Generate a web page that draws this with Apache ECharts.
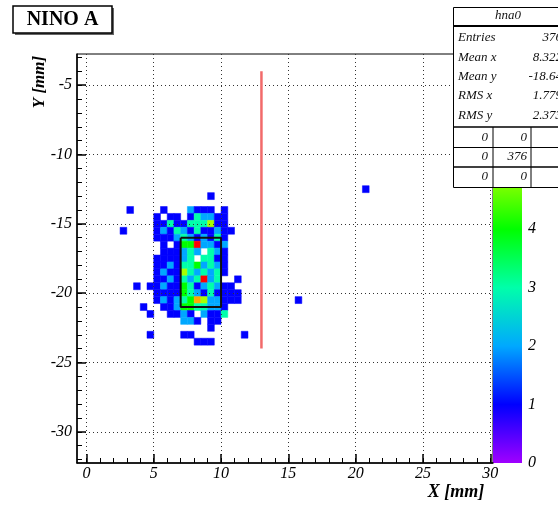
<!DOCTYPE html>
<html>
<head>
<meta charset="utf-8">
<script src="https://cdn.jsdelivr.net/npm/echarts@6/dist/echarts.min.js"></script>
<style>
html, body { margin: 0; padding: 0; background: #fff; }
#chart { width: 558px; height: 506px; }
</style>
</head>
<body>
<div id="chart"></div>
<script>
// histogram hna0 : bin centres in mm, bins are 0.5 mm wide
const binSize = 0.5;
const xCenters = [2.75, 3.25, 3.75, 4.25, 4.75, 5.25, 5.75, 6.25, 6.75, 7.25, 7.75, 8.25, 8.75, 9.25, 9.75, 10.25, 10.75, 11.25, 11.75];
const yCenters = [-13.0, -13.5, -14.0, -14.5, -15.0, -15.5, -16.0, -16.5, -17.0, -17.5, -18.0, -18.5, -19.0, -19.5, -20.0, -20.5, -21.0, -21.5, -22.0, -22.5, -23.0, -23.5];
// one row per yCenters entry, one column per xCenters entry
const counts = [
  [0,0,0,0,0,0,0,0,0,0,0,0,0,1,0,0,0,0,0],
  [0,0,0,0,0,0,0,0,0,0,0,0,0,0,0,0,0,0,0],
  [0,1,0,0,0,0,1,0,0,0,2,1,1,1,0,1,0,0,0],
  [0,0,0,0,0,1,0,1,1,0,1,3,2,2,1,1,0,0,0],
  [0,0,0,0,0,1,1,3,1,1,3,3,3,5,1,1,0,0,0],
  [1,0,0,0,0,1,2,1,3,2,1,3,1,1,2,1,1,0,0],
  [0,0,0,0,0,1,1,1,2,3,2,1,2,1,3,1,0,0,0],
  [0,0,0,0,0,0,1,0,1,4,4,7,2,2,1,2,0,0,0],
  [0,0,0,0,0,0,1,1,1,2,3,2,0,3,2,1,0,0,0],
  [0,0,0,0,0,1,1,1,1,2,3,0,3,3,1,1,0,0,0],
  [0,0,0,0,0,1,1,2,1,3,3,4,2,3,2,1,0,0,0],
  [0,0,0,0,0,1,2,1,1,5,3,2,3,2,3,1,0,0,0],
  [0,0,0,0,0,1,1,2,1,3,2,3,7,2,3,0,0,1,0],
  [0,0,1,0,1,1,2,1,1,4,3,1,2,3,2,1,1,0,0],
  [0,0,0,0,0,1,1,1,1,4,3,2,1,3,1,1,1,1,0],
  [0,0,0,0,0,1,2,1,2,3,4,6,5,2,2,1,1,1,0],
  [0,0,0,1,0,0,1,1,2,4,4,3,3,2,2,1,0,0,0],
  [0,0,0,0,1,0,0,1,1,2,1,0,2,1,1,3,0,0,0],
  [0,0,0,0,0,0,0,0,0,2,2,1,0,1,1,0,0,0,0],
  [0,0,0,0,0,0,0,0,0,0,0,0,0,1,0,0,0,0,0],
  [0,0,0,0,1,0,0,0,0,1,1,0,0,0,0,0,0,0,1],
  [0,0,0,0,0,0,0,0,0,0,0,1,1,1,0,0,0,0,0]
];
// two lonely hits away from the spot
const strayX = [15.75, 20.75];
const strayY = [-20.5, -12.5];
const strayN = [1, 1];

const xTicks = [0, 5, 10, 15, 20, 25, 30];
const yTicks = [-30, -25, -20, -15, -10, -5];
const zTicks = [0, 1, 2, 3, 4, 5, 6, 7];
const zMax = 7;

// red marker line and black box
const redLineX = [13, 13];
const redLineY = [-4, -24];
const boxX = [7, 10, 10, 7, 7];
const boxY = [-16, -16, -21, -21, -16];

const statNames = ['Entries', 'Mean x', 'Mean y', 'RMS x', 'RMS y'];
const statValues = ['376', '8.322', '-18.64', '1.779', '2.373'];
const flowTable = [['0', '0', '0'], ['0', '376', '0'], ['0', '0', '0']];

// ROOT "pretty" palette, violet -> red
const palette = ['#a000ff', '#0000ff', '#00a8ff', '#00ffaa', '#00ff00', '#a8ff00', '#ffa800', '#ff0000'];

const serif = '"Liberation Serif", "DejaVu Serif", serif';

let xMinor = [];
for (let v = 0; v <= 30; v++) xMinor.push(v);
let yMinor = [];
for (let v = -32; v <= -3; v++) yMinor.push(v);

let cells = [];
yCenters.forEach((y, j) => {
  xCenters.forEach((x, i) => {
    if (counts[j][i] > 0) cells.push([x, y, counts[j][i]]);
  });
});
strayX.forEach((x, k) => cells.push([x, strayY[k], strayN[k]]));

function renderCell(params, api) {
  let x = api.value(0), y = api.value(1);
  let a = api.coord([x - binSize / 2, y + binSize / 2]);
  let b = api.coord([x + binSize / 2, y - binSize / 2]);
  let c = api.visual('color');
  return {
    type: 'rect',
    shape: { x: a[0], y: a[1], width: b[0] - a[0], height: b[1] - a[1] },
    style: { fill: c, stroke: c, lineWidth: 0.5 }
  };
}

const labelFont = { fontFamily: serif, fontStyle: 'italic', fontSize: 16, color: '#000' };
const gridLine = { show: true, lineStyle: { color: '#333', width: 1, type: [1, 3] } };

let statText = [];
statNames.forEach((n, i) => {
  let y = 38 + i * 19.3;
  statText.push({ type: 'text', x: 458, y: y, style: { text: n, font: 'italic 13px ' + serif, fill: '#111', textVerticalAlign: 'middle' } });
  statText.push({ type: 'text', x: 562, y: y, style: { text: statValues[i], font: 'italic 13px ' + serif, fill: '#111', textAlign: 'right', textVerticalAlign: 'middle' } });
});
flowTable.forEach((row, r) => {
  let y = 137.5 + r * 19.5;
  row.forEach((t, k) => {
    statText.push({ type: 'text', x: 488 + k * 39, y: y, style: { text: t, font: 'italic 13px ' + serif, fill: '#111', textAlign: 'right', textVerticalAlign: 'middle' } });
  });
});

const chart = echarts.init(document.getElementById('chart'));
const option = {
  animation: false,
  backgroundColor: '#fff',
  grid: [
    { left: 77, top: 54, right: 65, bottom: 43, show: true, borderColor: '#000', borderWidth: 1 },
    { left: 493, top: 54, width: 29, bottom: 43 }
  ],
  xAxis: [
    {
      type: 'value', gridIndex: 0, min: -0.7, max: 30.2, z: 3,
      axisLine: { show: true, onZero: false, lineStyle: { color: '#000', width: 1.5 } },
      axisTick: { inside: true, length: 9, customValues: xTicks, lineStyle: { color: '#000', width: 1.5 } },
      axisLabel: Object.assign({ customValues: xTicks, margin: 3 }, labelFont),
      splitLine: gridLine
    },
    {
      type: 'value', gridIndex: 0, min: -0.7, max: 30.2, position: 'bottom', z: 3,
      axisLine: { show: false },
      axisTick: { inside: true, length: 5, customValues: xMinor, lineStyle: { color: '#000' } },
      axisLabel: { show: false },
      splitLine: { show: false }
    },
    { type: 'category', gridIndex: 1, data: ['z'], show: false }
  ],
  yAxis: [
    {
      type: 'value', gridIndex: 0, min: -32.25, max: -2.75, z: 3,
      axisLine: { show: true, onZero: false, lineStyle: { color: '#000', width: 1.5 } },
      axisTick: { inside: true, length: 9, customValues: yTicks, lineStyle: { color: '#000', width: 1.5 } },
      axisLabel: Object.assign({ customValues: yTicks, margin: 5 }, labelFont),
      splitLine: gridLine
    },
    {
      type: 'value', gridIndex: 0, min: -32.25, max: -2.75, position: 'left', z: 3,
      axisLine: { show: false, onZero: false },
      axisTick: { inside: true, length: 5, customValues: yMinor, lineStyle: { color: '#000' } },
      axisLabel: { show: false },
      splitLine: { show: false }
    },
    {
      type: 'value', gridIndex: 1, min: 0, max: zMax, position: 'right',
      axisLine: { show: false },
      axisTick: { inside: true, length: 12, customValues: zTicks, lineStyle: { color: '#000', width: 1.5 } },
      axisLabel: Object.assign({ customValues: zTicks, margin: 6 }, labelFont),
      splitLine: { show: false }
    }
  ],
  visualMap: {
    show: false, type: 'continuous', min: 0, max: zMax, dimension: 2, seriesIndex: 0,
    inRange: { color: palette }
  },
  series: [
    {
      type: 'custom', xAxisIndex: 0, yAxisIndex: 0, z: 2,
      renderItem: renderCell, encode: { x: 0, y: 1 }, data: cells, silent: true
    },
    {
      type: 'line', xAxisIndex: 0, yAxisIndex: 0, z: 5, symbol: 'none', silent: true,
      data: redLineX.map((x, i) => [x, redLineY[i]]),
      lineStyle: { color: '#f26a6a', width: 2.5 }
    },
    {
      type: 'line', xAxisIndex: 0, yAxisIndex: 0, z: 5, symbol: 'none', silent: true,
      data: boxX.map((x, i) => [x, boxY[i]]),
      lineStyle: { color: '#111', width: 2 }
    },
    {
      type: 'bar', xAxisIndex: 2, yAxisIndex: 2, barWidth: '100%', silent: true,
      data: [zMax],
      itemStyle: {
        color: {
          type: 'linear', x: 0, y: 1, x2: 0, y2: 0,
          colorStops: palette.map((c, i) => ({ offset: i / (palette.length - 1), color: c }))
        }
      }
    }
  ],
  graphic: [
    { type: 'rect', z: 100, shape: { x: 15, y: 8, width: 99, height: 27 }, style: { fill: '#666' } },
    { type: 'rect', z: 101, shape: { x: 13, y: 6, width: 99, height: 27 }, style: { fill: '#fff', stroke: '#000', lineWidth: 1.5 } },
    { type: 'text', z: 102, x: 62.5, y: 20, style: { text: 'NINO A', font: 'bold 20px ' + serif, fill: '#000', textAlign: 'center', textVerticalAlign: 'middle' } },
    { type: 'text', z: 102, x: 40, y: 82, rotation: Math.PI / 2, style: { text: 'Y [mm]', font: 'italic bold 17px ' + serif, fill: '#000', textAlign: 'center', textVerticalAlign: 'middle' } },
    { type: 'text', z: 102, x: 456, y: 492, style: { text: 'X [mm]', font: 'italic bold 18px ' + serif, fill: '#000', textAlign: 'center', textVerticalAlign: 'middle' } },
    {
      type: 'group', z: 110,
      children: [
        { type: 'rect', z: 110, shape: { x: 453.5, y: 7.5, width: 118, height: 180 }, style: { fill: '#fff', stroke: '#000', lineWidth: 1 } },
        { type: 'text', z: 111, x: 508, y: 16, style: { text: 'hna0', font: 'italic 13px ' + serif, fill: '#111', textAlign: 'center', textVerticalAlign: 'middle' } },
        { type: 'line', z: 111, shape: { x1: 453, y1: 26, x2: 572, y2: 26 }, style: { stroke: '#000', lineWidth: 2 } },
        { type: 'line', z: 111, shape: { x1: 453, y1: 127, x2: 572, y2: 127 }, style: { stroke: '#000', lineWidth: 1.5 } },
        { type: 'line', z: 111, shape: { x1: 453, y1: 147.5, x2: 572, y2: 147.5 }, style: { stroke: '#000', lineWidth: 1 } },
        { type: 'line', z: 111, shape: { x1: 453, y1: 167, x2: 572, y2: 167 }, style: { stroke: '#000', lineWidth: 1.5 } },
        { type: 'line', z: 111, shape: { x1: 493, y1: 127, x2: 493, y2: 187 }, style: { stroke: '#000', lineWidth: 1 } },
        { type: 'line', z: 111, shape: { x1: 531, y1: 127, x2: 531, y2: 187 }, style: { stroke: '#000', lineWidth: 1 } }
      ].concat(statText.map(t => Object.assign({ z: 111 }, t)))
    }
  ]
};
chart.setOption(option);
</script>
</body>
</html>
